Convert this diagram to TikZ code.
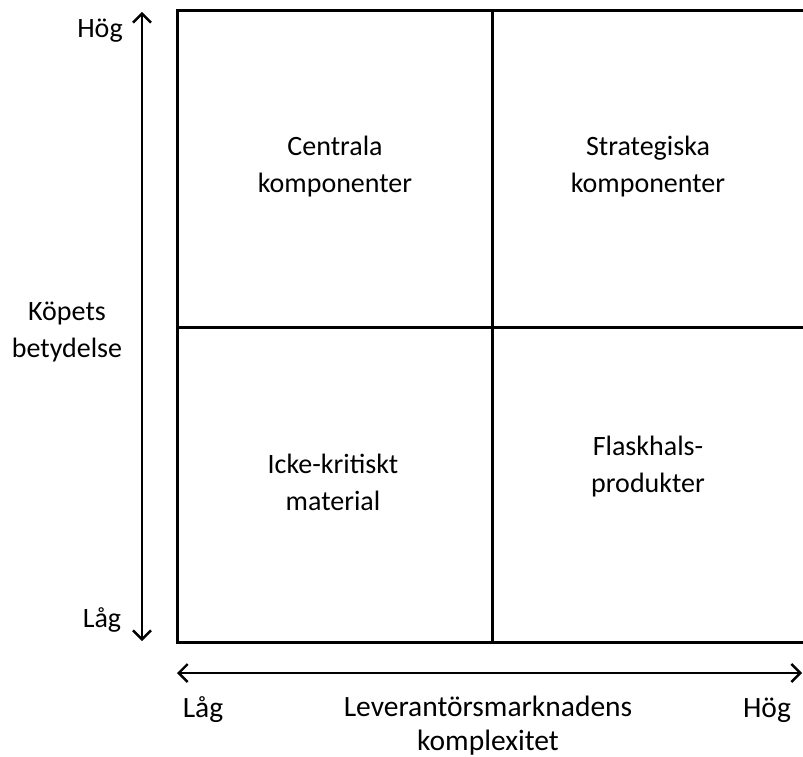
\documentclass[tikz,border=0pt]{standalone}
\usepackage{fontspec}
\setmainfont{Carlito}
\usetikzlibrary{arrows.meta}
\begin{document}
\begin{tikzpicture}[x=1pt,y=-1pt,
  lbl/.style={font=\fontsize{28}{37}\selectfont, align=center, inner sep=0pt, text=black},
  xlbl/.style={font=\fontsize{29.5}{34}\selectfont, align=center, inner sep=0pt, text=black},
  grid/.style={line width=3pt, draw=black},
  axis/.style={line width=2.4pt, {Straight Barb[length=9pt,width=18pt,line width=2.4pt]}-{Straight Barb[length=9pt,width=18pt,line width=2.4pt]}}]
\useasboundingbox (0,0) rectangle (803,757);
% quadrant frame
\coordinate (tl) at (177,11);
\coordinate (tr) at (812,11);
\coordinate (bl) at (177,642);
\coordinate (br) at (812,642);
\coordinate (mt) at (492,11);
\coordinate (mb) at (492,642);
\coordinate (ml) at (177,327);
\coordinate (mr) at (812,327);
\draw[grid] (tr) -- (tl) -- (bl) -- (br);
\draw[grid] (mt) -- (mb);
\draw[grid] (ml) -- (mr);
% axes
\coordinate (vtop) at (142,12);
\coordinate (vbot) at (142,641);
\coordinate (hl) at (177,673);
\coordinate (hr) at (802,673);
\draw[axis] (vbot) -- (vtop);
\draw[axis] (hl) -- (hr);
% axis labels
\node[lbl] (yhi) at (100,31) {Hög};
\node[lbl] (ymid) at (67,332) {Köpets\\betydelse};
\node[lbl] (ylo) at (102,620) {Låg};
\node[xlbl] (xlo) at (203,710) {Låg};
\node[xlbl] (xmid) at (488,726) {Leverantörsmarknadens\\komplexitet};
\node[xlbl] (xhi) at (767,710) {Hög};
% quadrant labels
\node[lbl] (q1) at (335,167) {Centrala\\komponenter};
\node[lbl] (q2) at (648,167) {Strategiska\\komponenter};
\node[lbl] (q3) at (333,482) {Icke-kritiskt\\material};
\node[lbl] (q4) at (648,467) {Flaskhals-\\produkter};
\end{tikzpicture}
\end{document}
